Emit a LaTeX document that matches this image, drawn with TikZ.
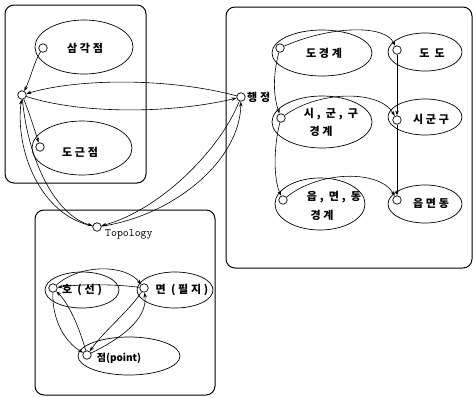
\documentclass[tikz,border=0pt]{standalone}
\usepackage{fontspec}
\newfontfamily\kr[LetterSpace=25]{Noto Sans CJK KR}
\newfontfamily\krtight{Noto Sans CJK KR}
\usetikzlibrary{shapes.geometric,arrows.meta}
\begin{document}
\begin{tikzpicture}[x=1pt,y=-1pt,
  box/.style={draw,line width=1pt,rounded corners=9pt},
  oval/.style={draw,ellipse,line width=0.7pt,inner sep=0pt},
  port/.style={draw,circle,fill=white,line width=0.7pt,inner sep=0pt,minimum size=8.5pt},
  lbl/.style={font=\kr\bfseries\fontsize{11}{13}\selectfont,inner sep=0pt},
  arr/.style={-{Stealth[length=5pt,width=3.5pt]},line width=0.6pt}]
  \useasboundingbox (0,0) rectangle (473,397);
  % boxes
  \draw[box] (5,5) rectangle (146,183);
  \draw[box] (226,7) rectangle (472,268);
  \draw[box] (35,210) rectangle (215,395);
  % ovals
  \foreach \n/\x/\y/\w/\h in {samgak/84/47/98/54, dogeun/82/148/100/54,
      dogy/322/53/100/46, do/425/52/74/38, sggy/322/122/100/52, sgg/425/117/74/36,
      ymdy/320/204/90/52, ymd/425/204/74/38, ho/82/290/74/36, myeon/175/290/76/36,
      jeom/129/356/102/38}
    \node[oval,minimum width=\w,minimum height=\h] (o-\n) at (\x,\y) {};
  % ports
  \foreach \n/\x/\y in {sp/43/48, dg/40/147, L/22/95, hj/241/97, dgyp/280/48,
      dop/397/50, sggyp/281/118, sggp/397/120, ymdyp/283/200, ymdp/397/200,
      topo/97/227, hop/53/288, myp/144/288, jp/87/355}
    \node[port] (\n) at (\x,\y) {};
  % labels
  \node[lbl] (t-samgak) at (85,48) {삼각점};
  \node[lbl] (t-dogeun) at (80,152) {도근점};
  \node[lbl,anchor=west] (t-hj) at (247,97) {행정};
  \node[lbl] (t-dogy) at (324,53) {도경계};
  \node[lbl] (t-do) at (432,53) {도 도};
  \node[lbl] (t-sggy1) at (331,114) {시, 군, 구};
  \node[lbl] (t-sggy2) at (321,131) {경계};
  \node[lbl] (t-sgg) at (431,119) {시군구};
  \node[lbl] (t-ymdy1) at (334,197) {읍, 면, 동};
  \node[lbl] (t-ymdy2) at (322,215) {경계};
  \node[lbl] (t-ymd) at (431,203) {읍면동};
  \node[font=\ttfamily\fontsize{11.5}{13}\selectfont,anchor=west,inner sep=0pt] (t-topo) at (105,234) {Topology};
  \node[lbl] (t-ho) at (82,290) {호 (선)};
  \node[lbl] (t-myeon) at (182,290) {면 (필지)};
  \node[font=\krtight\bfseries\fontsize{10}{12}\selectfont,inner sep=0pt] (t-jeom) at (119,358) {점(point)};
  % connectors
  \draw[arr] (sp) .. controls (34,62) and (30,80) .. (L);
  \draw[arr] (L) .. controls (29,112) and (34,128) .. (dg);
  \draw[arr] (hj) .. controls (170,78) and (80,78) .. (L);
  \draw[arr] (L) .. controls (80,114) and (170,114) .. (hj);
  \draw[arr] (topo) .. controls (40,215) and (15,150) .. (L);
  \draw[arr] (L) .. controls (28,160) and (55,215) .. (topo);
  \draw[arr] (hj) .. controls (220,150) and (160,210) .. (topo);
  \draw[arr] (topo) .. controls (175,215) and (240,160) .. (hj);
  \draw[arr] (dgyp) .. controls (330,26) and (385,24) .. (dop);
  \draw[arr] (dgyp) .. controls (273,75) and (273,95) .. (sggyp);
  \draw[arr] (sggyp) .. controls (320,90) and (380,90) .. (sggp);
  \draw[arr] (sggyp) .. controls (273,150) and (274,180) .. (ymdyp);
  \draw[arr] (ymdyp) .. controls (320,170) and (380,170) .. (ymdp);
  \draw[arr] (dop) -- (sggp);
  \draw[arr] (sggp) -- (ymdp);
  \draw[arr] (hop) .. controls (80,264) and (125,264) .. (myp);
  \draw[arr] (myp) .. controls (115,284) and (80,284) .. (hop);
  \draw[arr] (hop) .. controls (52,320) and (65,342) .. (jp);
  \draw[arr] (jp) .. controls (80,330) and (70,305) .. (hop);
  \draw[arr] (myp) .. controls (130,310) and (105,330) .. (jp);
  \draw[arr] (jp) .. controls (118,340) and (148,320) .. (myp);
\end{tikzpicture}
\end{document}
